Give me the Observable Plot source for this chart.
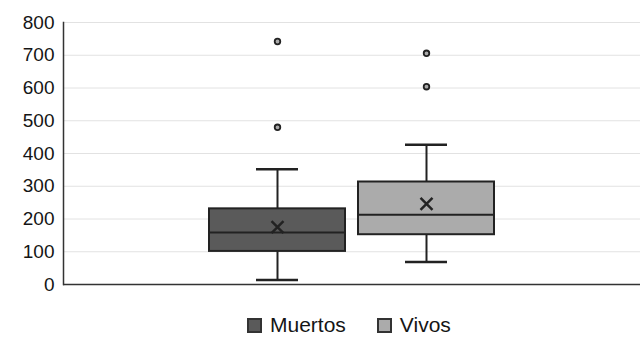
<!DOCTYPE html>
<html><head><meta charset="utf-8">
<script src="https://cdn.jsdelivr.net/npm/d3@7"></script>
<script src="https://cdn.jsdelivr.net/npm/@observablehq/plot@0.6"></script>
<style>
body{margin:0;background:#fff;font-family:"Liberation Sans",Arial,sans-serif;width:644px;height:340px;position:relative;overflow:hidden;}
#legend{position:absolute;left:247px;top:313px;display:flex;align-items:center;font-size:21px;color:#151515;}
.sw{display:inline-block;width:11px;height:11px;border:2px solid #333;margin-right:8px;}
.item{display:flex;align-items:center;margin-right:31px;}
</style></head><body><div id="chart"></div><div id="legend"></div>
<script>
const groups = ["Muertos", "Vivos"];
const q1 = [101, 152];
const median = [159, 213];
const q3 = [231, 313];
const whiskerLow = [14, 69];
const whiskerHigh = [352, 427];
const means = [175, 246];
const outlierGroup = ["Muertos", "Muertos", "Vivos", "Vivos"];
const outlierValue = [742, 480, 706, 604];
const fills = ["#5a5a5a", "#ababab"];
const yTicks = [0, 100, 200, 300, 400, 500, 600, 700, 800];

const idx = groups.map((g, i) => i);
const oidx = outlierValue.map((v, i) => i);

const chart = Plot.plot({
  width: 644,
  height: 300,
  marginTop: 22,
  marginBottom: 16,
  marginLeft: 63,
  marginRight: 4,
  style: {fontFamily: "Liberation Sans, Arial, sans-serif", fontSize: "19px", color: "#151515", background: "#fff"},
  x: {type: "band", domain: groups, paddingInner: 0.087, paddingOuter: 0.97, axis: null},
  y: {domain: [0, 800]},
  color: {domain: groups, range: fills},
  marks: [
    Plot.gridY(yTicks, {stroke: "#e2e2e2", strokeOpacity: 1}),
    Plot.axisY(yTicks, {tickSize: 0, tickPadding: 9, fontSize: 19, label: null}),
    Plot.frame({anchor: "left", stroke: "#333", strokeWidth: 1.5}),
    Plot.ruleY([0], {stroke: "#333", strokeWidth: 1.5}),
    Plot.ruleX(idx, {x: i => groups[i], y1: i => whiskerLow[i], y2: i => whiskerHigh[i], stroke: "#222", strokeWidth: 2}),
    Plot.tickY(idx, {x: i => groups[i], y: i => whiskerLow[i], insetLeft: 47, insetRight: 47, stroke: "#222", strokeWidth: 2.5}),
    Plot.tickY(idx, {x: i => groups[i], y: i => whiskerHigh[i], insetLeft: 47, insetRight: 47, stroke: "#222", strokeWidth: 2.5}),
    Plot.barY(idx, {x: i => groups[i], y1: i => q1[i], y2: i => q3[i], fill: i => groups[i], stroke: "#222", strokeWidth: 2}),
    Plot.tickY(idx, {x: i => groups[i], y: i => median[i], stroke: "#222", strokeWidth: 2}),
    Plot.dot(idx, {x: i => groups[i], y: i => means[i], symbol: "times", r: 5.5, stroke: "#222", strokeWidth: 2.5}),
    Plot.dot(oidx, {x: i => outlierGroup[i], y: i => outlierValue[i], r: 2.8, stroke: "#222", strokeWidth: 1.8, fill: "#aaa"})
  ]
});
document.getElementById("chart").append(chart);

const legend = document.getElementById("legend");
groups.forEach((g, i) => {
  const item = document.createElement("span");
  item.className = "item";
  const sw = document.createElement("span");
  sw.className = "sw";
  sw.style.background = fills[i];
  item.append(sw, document.createTextNode(g));
  legend.append(item);
});
</script>
</body></html>
